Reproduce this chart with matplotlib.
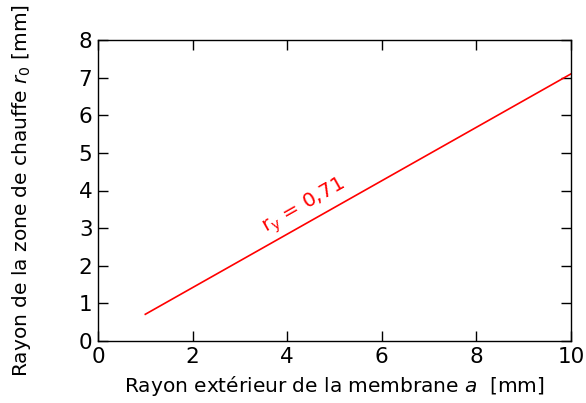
import numpy as np
import matplotlib.pyplot as plt

# rayon extérieur a [mm] et rayon de la zone de chauffe r0 [mm]
a_mm = [1, 10]
r0_mm = [0.71, 7.1]
ratio_label = r'$\mathrm{r_y}$ = 0,71'

fig = plt.figure(figsize=(5.86, 4.03), dpi=100)
ax = fig.add_axes([98 / 586, 62 / 403, 473 / 586, 301 / 403])

ax.plot(a_mm, r0_mm, color='red', lw=1.2)
ax.text(4.35, 3.58, ratio_label, color='red', fontsize=14.5,
        rotation=29.5, ha='center', va='center', rotation_mode='anchor')

ax.set_xlim(0, 10)
ax.set_ylim(0, 8)
ax.set_xticks(np.arange(0, 11, 2))
ax.set_yticks(np.arange(0, 9, 1))
ax.tick_params(direction='in', top=True, right=True, length=7, width=1,
               labelsize=15.5, pad=4)
for sp in ax.spines.values():
    sp.set_linewidth(1)

ax.set_xlabel(r'Rayon extérieur de la membrane $a$  [mm]', fontsize=14.5, labelpad=5)
ax.set_ylabel(r'Rayon de la zone de chauffe $\mathit{r_0}$ [mm]', fontsize=14.5,
              labelpad=33)

fig.savefig('out.png', dpi=100)
